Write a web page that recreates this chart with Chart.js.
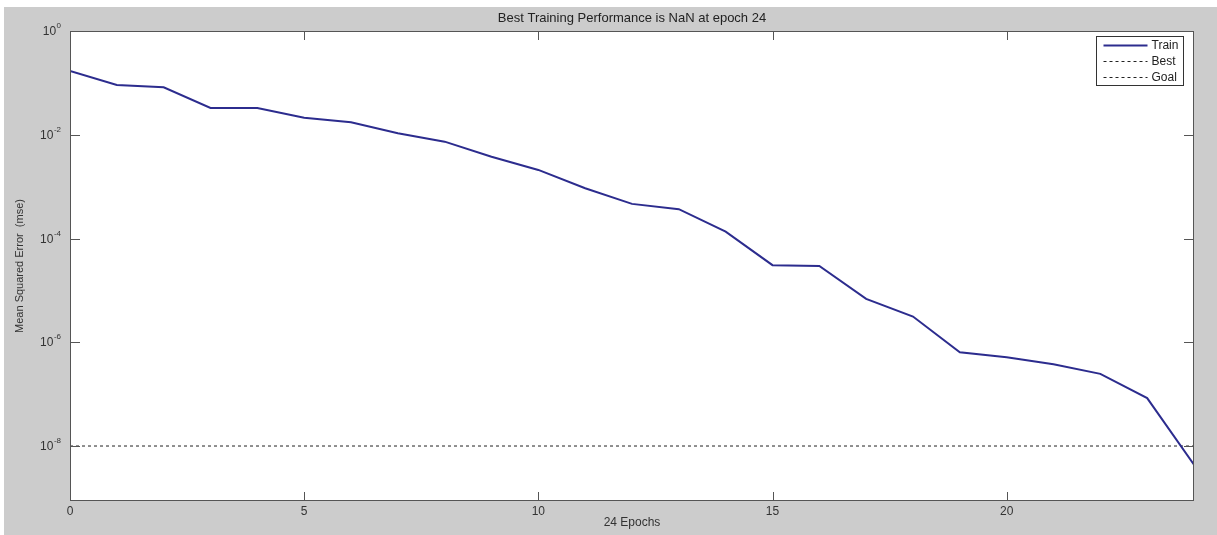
<!DOCTYPE html>
<html><head><meta charset="utf-8">
<script src="https://cdn.jsdelivr.net/npm/chart.js@4/dist/chart.umd.min.js"></script>
<style>
html,body{margin:0;padding:0;background:#fff;}
#wrap{position:absolute;left:4px;top:7px;width:1213px;height:528px;background:#cccccc;}
canvas{display:block;}
</style></head><body>
<div id="wrap"><canvas id="c" width="1213" height="528"></canvas></div>
<script>
const epochs = [0,1,2,3,4,5,6,7,8,9,10,11,12,13,14,15,16,17,18,19,20,21,22,23,24];
const trainMse = [0.169,0.0912,0.0822,0.0328,0.0328,0.0213,0.0174,0.0107,0.00736,0.00378,0.0021,
  9.3e-4,4.65e-4,3.67e-4,1.36e-4,3.06e-5,2.96e-5,6.86e-6,3.13e-6,6.44e-7,5.16e-7,3.75e-7,2.46e-7,8.4e-8,4.35e-9];
const goalEpochs = [0,24];
const goalMse = [1e-8,1e-8];
const bestMse = [];
const xTicks = [0,5,10,15,20];
const yTickExponents = [0,-2,-4,-6,-8];
const seriesLabels = ['Train','Best','Goal'];
const titleText = 'Best Training Performance is NaN at epoch 24';
const xTitle = '24 Epochs';
const yTitle = 'Mean Squared Error  (mse)';

const FONT = '"Liberation Sans", Arial, sans-serif';
const AXIS = '#555555';
const TEXT = '#333333';

const matlabPlugin = {
  id: 'matlab',
  beforeDraw(chart) {
    const {ctx, chartArea: a} = chart;
    ctx.save();
    ctx.fillStyle = '#ffffff';
    ctx.fillRect(a.left, a.top, a.right - a.left, a.bottom - a.top);
    ctx.restore();
  },
  afterDraw(chart) {
    const {ctx, chartArea: a, scales} = chart;
    ctx.save();
    // box
    ctx.strokeStyle = AXIS; ctx.lineWidth = 1;
    ctx.strokeRect(Math.round(a.left) + 0.5, Math.round(a.top) + 0.5, Math.round(a.right - a.left) - 1, Math.round(a.bottom - a.top) - 1);
    // x tick marks (bottom and top, inward)
    scales.x.ticks.forEach(t => {
      const px = Math.round(scales.x.getPixelForValue(t.value)) + 0.5;
      ctx.beginPath();
      ctx.moveTo(px, a.bottom); ctx.lineTo(px, a.bottom - 9);
      ctx.moveTo(px, a.top); ctx.lineTo(px, a.top + 9);
      ctx.stroke();
    });
    // y tick marks and labels
    scales.y.ticks.forEach(t => {
      const py = Math.round(scales.y.getPixelForValue(t.value)) + 0.5;
      ctx.beginPath();
      ctx.moveTo(a.left, py); ctx.lineTo(a.left + 10, py);
      ctx.moveTo(a.right, py); ctx.lineTo(a.right - 10, py);
      ctx.stroke();
      const exp = String(Math.round(Math.log10(t.value)));
      ctx.fillStyle = TEXT;
      ctx.textBaseline = 'middle';
      ctx.font = '8px ' + FONT;
      const we = ctx.measureText(exp).width;
      const xr = a.left - 9;
      ctx.textAlign = 'left';
      ctx.fillText(exp, xr - we, py - 6);
      ctx.font = '12px ' + FONT;
      ctx.textAlign = 'right';
      ctx.fillText('10', xr - we - 0.5, py);
    });
    // title
    ctx.fillStyle = '#222222';
    ctx.font = '13px ' + FONT;
    ctx.textAlign = 'center';
    ctx.textBaseline = 'middle';
    ctx.fillText(titleText, (a.left + a.right) / 2, 11);
    // legend
    const bw = 87, bh = 49;
    const bx = Math.round(a.right - 11 - bw) + 0.5, by = Math.round(a.top + 5) + 0.5;
    ctx.fillStyle = '#ffffff';
    ctx.fillRect(bx, by, bw, bh);
    ctx.strokeStyle = '#333333';
    ctx.strokeRect(bx, by, bw, bh);
    chart.data.datasets.forEach((ds, i) => {
      const ly = Math.round(by + 8 + i * 16) + 0.5;
      ctx.save();
      ctx.strokeStyle = ds.borderColor;
      ctx.lineWidth = ds.borderWidth;
      ctx.setLineDash(ds.borderDash || []);
      ctx.beginPath();
      ctx.moveTo(bx + 7, ly); ctx.lineTo(bx + 51, ly);
      ctx.stroke();
      ctx.restore();
      ctx.fillStyle = '#222222';
      ctx.font = '12px ' + FONT;
      ctx.textAlign = 'left';
      ctx.textBaseline = 'middle';
      ctx.fillText(ds.label, bx + 55, ly);
    });
    ctx.restore();
  }
};

new Chart(document.getElementById('c'), {
  type: 'line',
  data: {
    datasets: [
      { label: seriesLabels[0], data: epochs.map((e, i) => ({x: e, y: trainMse[i]})),
        borderColor: '#2c2c8e', borderWidth: 2, pointRadius: 0, tension: 0, fill: false },
      { label: seriesLabels[1], data: bestMse,
        borderColor: '#222222', borderWidth: 1, borderDash: [3, 3], pointRadius: 0, fill: false },
      { label: seriesLabels[2], data: goalEpochs.map((e, i) => ({x: e, y: goalMse[i]})),
        borderColor: '#222222', borderWidth: 1, borderDash: [3, 3], pointRadius: 0, fill: false }
    ]
  },
  options: {
    responsive: false,
    animation: false,
    devicePixelRatio: 1,
    layout: { padding: { top: 24, right: 23, left: 0, bottom: 0 } },
    plugins: { legend: { display: false }, tooltip: { enabled: false }, title: { display: false } },
    scales: {
      x: {
        type: 'linear', min: 0, max: 24,
        afterBuildTicks: s => { s.ticks = xTicks.map(v => ({value: v})); },
        afterFit: s => { s.height = 34; },
        grid: { display: false, drawTicks: false },
        border: { display: false },
        ticks: { color: TEXT, font: { family: FONT, size: 12 }, padding: 3, maxRotation: 0 },
        title: { display: true, text: xTitle, color: TEXT, font: { family: FONT, size: 12 }, padding: { top: 0, bottom: 5.5 } }
      },
      y: {
        type: 'logarithmic', min: Math.pow(10, -9.06), max: 1,
        afterBuildTicks: s => { s.ticks = yTickExponents.map(e => ({value: Math.pow(10, e)})); },
        afterFit: s => { s.width = 66; },
        grid: { display: false, drawTicks: false },
        border: { display: false },
        ticks: { display: false },
        title: { display: true, text: yTitle, color: TEXT, font: { family: FONT, size: 11 }, padding: { top: 9.5, bottom: 0 } }
      }
    }
  },
  plugins: [matlabPlugin]
});
</script>
</body></html>
